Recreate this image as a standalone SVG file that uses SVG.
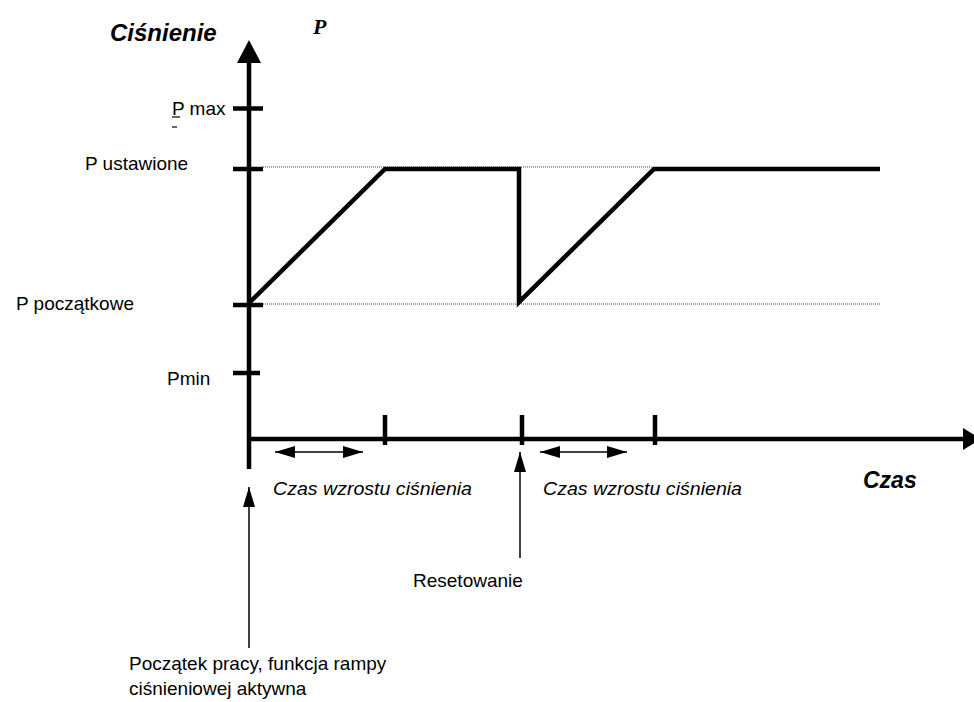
<svg xmlns="http://www.w3.org/2000/svg" width="974" height="702" viewBox="0 0 974 702">
<defs>
<style>
.lbl{font-family:"Liberation Sans",Arial,sans-serif;font-size:19px;fill:#000}
.it{font-style:italic}
.bi{font-family:"Liberation Sans",Arial,sans-serif;font-weight:bold;font-style:italic;fill:#000}
.thick{stroke:#000;stroke-width:4.5;fill:none}
.thin{stroke:#000;stroke-width:1.5;fill:none}
.dot{stroke:#444;stroke-width:1;stroke-dasharray:1 1;fill:none}
</style>
<marker id="ah" viewBox="0 0 20 12" refX="20" refY="6" markerWidth="20" markerHeight="12" markerUnits="userSpaceOnUse" orient="auto-start-reverse">
<path d="M0,0 L20,6 L0,12 Z" fill="#000"/>
</marker>
</defs>
<rect width="974" height="702" fill="#fff"/>

<g id="axes">
<line class="thick" x1="249" y1="60" x2="249" y2="469"/>
<polygon points="249,40 237,63 261,63" fill="#000"/>
<line class="thick" x1="249" y1="439" x2="965" y2="439"/>
<polygon points="963,428 963,450 981,439" fill="#000"/>
<line class="thick" x1="233" y1="108.5" x2="263" y2="108.5"/>
<line class="thick" x1="233" y1="169" x2="263" y2="169"/>
<line class="thick" x1="233" y1="305" x2="263" y2="305"/>
<line class="thick" x1="233" y1="373" x2="260" y2="373"/>
<line class="thick" x1="385" y1="415" x2="385" y2="445"/>
<line class="thick" x1="522" y1="415" x2="522" y2="445"/>
<line class="thick" x1="655" y1="415" x2="655" y2="445"/>
</g>

<g id="guides">
<line class="dot" x1="263" y1="167" x2="653" y2="167"/>
<line class="dot" x1="263" y1="304" x2="880" y2="304"/>
</g>

<g id="curve">
<polyline class="thick" points="250,302 385,169 519,169 519,302 654,169 880,169" stroke-linejoin="miter"/>
</g>

<g id="connectors">
<line class="thin" x1="275" y1="452" x2="363" y2="452" marker-start="url(#ah)" marker-end="url(#ah)"/>
<line class="thin" x1="540" y1="452" x2="627" y2="452" marker-start="url(#ah)" marker-end="url(#ah)"/>
<line class="thin" x1="249" y1="648" x2="249" y2="487" marker-end="url(#ah)"/>
<line class="thin" x1="520" y1="558" x2="520" y2="452" marker-end="url(#ah)"/>
</g>

<g id="title-y">
<text class="bi" x="110" y="41" font-size="24">Ciśnienie</text>
<text x="313" y="34" font-family="'Liberation Serif','Times New Roman',serif" font-weight="bold" font-style="italic" font-size="22">P</text>
</g>

<g id="label-pmax">
<text class="lbl" x="172" y="115">P max</text>
<line x1="172" y1="117" x2="180" y2="117" stroke="#000" stroke-width="1.2"/>
<line x1="172" y1="127" x2="177" y2="127" stroke="#000" stroke-width="1.2"/>
</g>
<g id="label-pust"><text class="lbl" x="85" y="170">P ustawione</text></g>
<g id="label-ppocz"><text class="lbl" x="16" y="310">P początkowe</text></g>
<g id="label-pmin"><text class="lbl" x="167" y="385">Pmin</text></g>

<g id="label-czas"><text class="bi" x="863" y="488" font-size="23">Czas</text></g>
<g id="label-ramp1"><text class="lbl it" x="273" y="495" textLength="199" lengthAdjust="spacingAndGlyphs">Czas wzrostu ciśnienia</text></g>
<g id="label-ramp2"><text class="lbl it" x="543" y="495" textLength="199" lengthAdjust="spacingAndGlyphs">Czas wzrostu ciśnienia</text></g>
<g id="label-reset"><text class="lbl" x="413" y="587">Resetowanie</text></g>
<g id="label-start">
<text class="lbl" x="129" y="670">Początek pracy, funkcja rampy</text>
<text class="lbl" x="129" y="695">ciśnieniowej aktywna</text>
</g>
</svg>
